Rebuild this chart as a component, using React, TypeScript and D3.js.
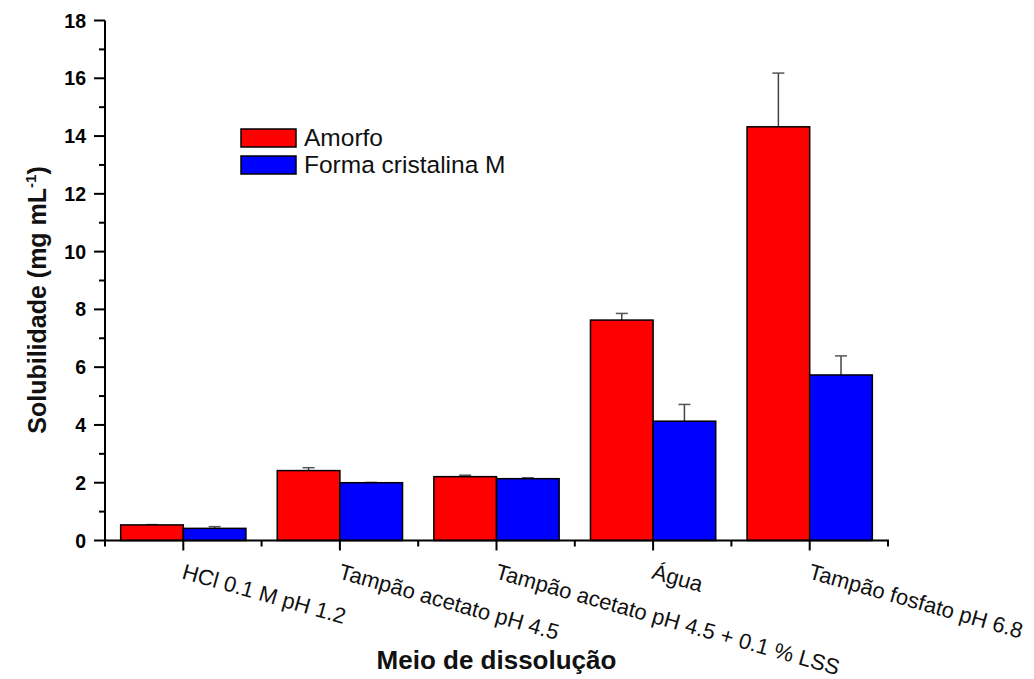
import React from "react";
import * as d3 from "d3";

// Dissolution media (x categories)
const categories = [
  "HCl 0.1 M pH 1.2",
  "Tampão acetato pH 4.5",
  "Tampão acetato pH 4.5 + 0.1 % LSS",
  "Água",
  "Tampão fosfato pH 6.8",
];
const seriesNames = ["Amorfo", "Forma cristalina M"];
const seriesColors = ["#ff0000", "#0000ff"];

// Solubility (mg mL-1) and standard deviations
const amorfo = [0.54, 2.42, 2.21, 7.63, 14.32];
const amorfoErr = [0.01, 0.1, 0.05, 0.23, 1.86];
const cristalina = [0.42, 2.0, 2.14, 4.13, 5.73];
const cristalinaErr = [0.06, 0.01, 0.03, 0.58, 0.66];

const yTicks = [0, 2, 4, 6, 8, 10, 12, 14, 16, 18];
const yMinorTicks = [1, 3, 5, 7, 9, 11, 13, 15, 17];

const W = 1034;
const H = 679;
const left = 105;
const right = 888;
const top = 20.5;
const bottom = 540.5;
const FONT = "'Liberation Sans', Arial, Helvetica, sans-serif";

export default function App() {
  const x = d3.scaleBand<string>().domain(categories).range([left, right]).paddingInner(0).paddingOuter(0);
  const sub = d3.scaleBand<number>().domain([0, 1]).range([0, x.bandwidth()]).paddingOuter(0.25).paddingInner(0);
  const y = d3.scaleLinear().domain([0, 18]).range([bottom, top]);

  const values = [amorfo, cristalina];
  const errs = [amorfoErr, cristalinaErr];

  // tick positions along x: band edges and band centres
  const xMajor = categories.map((c) => (x(c) as number) + x.bandwidth() / 2);
  const xMinor = [...categories.map((c) => x(c) as number), right];

  return (
    <svg width={W} height={H} style={{ position: "absolute", left: 0, top: 0, background: "#fff" }} fontFamily={FONT}>
      {/* bars with upper error bars */}
      {values.map((vals, s) =>
        vals.map((v, i) => {
          const bx = (x(categories[i]) as number) + (sub(s) as number);
          const bw = sub.bandwidth();
          const e = errs[s][i];
          const cx = bx + bw / 2;
          return (
            <g key={`b${s}-${i}`}>
              <line x1={cx} x2={cx} y1={y(v)} y2={y(v + e)} stroke="#444" strokeWidth={1.5} />
              <line x1={cx - 6} x2={cx + 6} y1={y(v + e)} y2={y(v + e)} stroke="#555" strokeWidth={1.5} />
              <rect x={bx} y={y(v)} width={bw} height={y(0) - y(v)} fill={seriesColors[s]} stroke="#000" strokeWidth={1.5} />
            </g>
          );
        })
      )}

      {/* y axis */}
      <line x1={left} x2={left} y1={bottom + 1} y2={top} stroke="#000" strokeWidth={2} />
      {yTicks.map((t) => (
        <g key={`yt${t}`}>
          <line x1={left - 11} x2={left} y1={y(t)} y2={y(t)} stroke="#000" strokeWidth={2} />
          <text x={86} y={y(t)} dy="0.36em" textAnchor="end" fontSize={19.5} fontWeight="bold" fill="#000">
            {t}
          </text>
        </g>
      ))}
      {yMinorTicks.map((t) => (
        <line key={`ym${t}`} x1={left - 6} x2={left} y1={y(t)} y2={y(t)} stroke="#000" strokeWidth={2} />
      ))}

      {/* x axis */}
      <line x1={left - 1} x2={right + 1} y1={bottom} y2={bottom} stroke="#000" strokeWidth={2} />
      {xMajor.map((px, i) => (
        <line key={`xM${i}`} x1={px} x2={px} y1={bottom} y2={bottom + 10} stroke="#000" strokeWidth={2} />
      ))}
      {xMinor.map((px, i) => (
        <line key={`xm${i}`} x1={px} x2={px} y1={bottom} y2={bottom + 6} stroke="#000" strokeWidth={2} />
      ))}
      {categories.map((c, i) => (
        <text
          key={`xl${i}`}
          transform={`translate(${xMajor[i] + 2},563) rotate(15.8)`}
          x={0}
          y={15.8}
          fontSize={22}
          fill="#111"
        >
          {c}
        </text>
      ))}

      {/* axis titles */}
      <text x={(left + right) / 2} y={669} textAnchor="middle" fontSize={26} fontWeight="bold" fill="#111">
        Meio de dissolução
      </text>
      <text transform="translate(46,300) rotate(-90)" textAnchor="middle" fontSize={25} fontWeight="bold" fill="#111">
        Solubilidade (mg mL
        <tspan fontSize={15} dy={-10}>-1</tspan>
        <tspan dy={10}>)</tspan>
      </text>

      {/* legend */}
      {seriesNames.map((n, s) => (
        <g key={`lg${s}`}>
          <rect x={241} y={129 + s * 27} width={55} height={18} fill={seriesColors[s]} stroke="#000" strokeWidth={1.5} />
          <text x={304} y={146 + s * 27} fontSize={24.5} fill="#111">
            {n}
          </text>
        </g>
      ))}
    </svg>
  );
}
